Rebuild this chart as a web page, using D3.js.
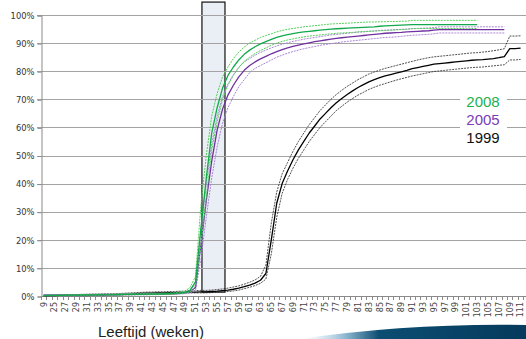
<!DOCTYPE html>
<html><head><meta charset="utf-8">
<script src="https://cdn.jsdelivr.net/npm/d3@7"></script>
<style>html,body{margin:0;padding:0;background:#fff;}svg{display:block;}</style>
</head><body>
<svg id="c" width="526" height="339"></svg>
<script>
// ---------- data ----------
const weeks = [9].concat(d3.range(24, 112)); // category labels 9, 24..111
const yTicks = [0,10,20,30,40,50,60,70,80,90,100];
const seriesNames = ["2008","2005","1999"];
const highlightWeeks = [52.2, 56.45];     // shaded period (weeks)
const highlightRange = [1.4, 104.6];      // percent

const g2008 = [0.1,
 0.2,0.2,0.2,0.3,0.3,0.3,0.3,
 0.4,0.4,0.4,0.5,0.5,0.5,0.5,0.6,0.6,0.6,
 0.6,0.7,0.7,0.7,0.8,0.8,0.9,1.0,1.3,2.0,
 5,24,42,58,67,74,78.5,81.5,84,86,
 87.5,88.7,89.7,90.5,91.3,92,92.6,93,93.4,93.7,
 94,94.2,94.4,94.6,94.8,95,95.1,95.2,95.3,95.4,
 95.5,95.6,95.7,95.8,96,96.1,96.2,96.3,96.4,96.5,
 96.6,96.6,96.6,96.6,96.6,96.6,96.6,96.6,96.6,96.6,
 96.6,96.6,96.6,null,null,null,null,null,null,null,
 null];
const g2008hi = [0.2,
 0.3,0.3,0.3,0.4,0.4,0.4,0.5,
 0.5,0.5,0.6,0.6,0.6,0.7,0.7,0.8,0.8,0.8,
 0.8,0.9,0.9,0.9,1.0,1.0,1.1,1.3,1.7,3.0,
 7,32,50,64,72,78,81.5,84.5,86.8,88.6,
 90,91,92,92.7,93.3,94,94.5,94.9,95.2,95.5,
 95.8,96,96.2,96.4,96.6,96.8,96.9,97,97.1,97.2,
 97.3,97.4,97.5,97.5,97.6,97.6,97.7,97.7,97.8,97.8,
 98.1,98.1,98.1,98.1,98.1,98.1,98.1,98.1,98.1,98.1,
 98.1,98.1,98.1,null,null,null,null,null,null,null,
 null];
const g2008lo = [0,
 0.1,0.1,0.1,0.2,0.2,0.2,0.2,
 0.3,0.3,0.3,0.4,0.4,0.4,0.4,0.5,0.5,0.5,
 0.5,0.5,0.5,0.5,0.6,0.6,0.7,0.8,1.0,1.4,
 3.5,18,35,52,62,70,75,78.5,81.3,83.5,
 85,86.3,87.4,88.3,89.2,90,90.6,91.1,91.5,91.9,
 92.2,92.5,92.7,92.9,93.1,93.3,93.5,93.6,93.7,93.8,
 94,94.1,94.2,94.3,94.4,94.5,94.6,94.7,94.8,94.9,
 95.2,95.2,95.2,95.2,95.2,95.2,95.2,95.2,95.2,95.2,
 95.2,95.2,95.2,null,null,null,null,null,null,null,
 null];
const p2005 = [0.3,
 0.3,0.3,0.3,0.3,0.3,0.3,0.3,
 0.4,0.4,0.4,0.5,0.5,0.5,0.5,0.6,0.6,0.6,
 0.6,0.6,0.7,0.7,0.7,0.8,0.8,0.9,1.1,1.6,
 3,18,34,48,59,66.5,71.5,75,78,80.3,
 82,83.3,84.4,85.3,86.2,87,87.7,88.3,88.8,89.3,
 89.7,90.1,90.5,90.8,91.1,91.4,91.7,91.9,92.1,92.3,
 92.5,92.7,92.9,93.1,93.3,93.5,93.6,93.7,93.8,94,
 94.1,94.2,94.3,94.4,94.6,94.8,94.8,94.8,94.8,94.8,
 94.8,94.8,94.8,94.8,94.8,94.8,94.8,94.8,null,null,
 null];
const p2005hi = [0.5,
 0.5,0.5,0.5,0.5,0.5,0.5,0.5,
 0.6,0.6,0.6,0.7,0.7,0.7,0.7,0.8,0.8,0.8,
 0.8,0.8,0.9,0.9,0.9,1.0,1.0,1.1,1.4,2.2,
 4,23,40,54,64,71,75.5,78.8,81.4,83.3,
 84.5,85.7,86.7,87.5,88.3,89,89.6,90.1,90.6,91,
 91.4,91.7,92,92.3,92.6,92.9,93.1,93.3,93.5,93.7,
 93.9,94,94.2,94.3,94.5,94.6,94.7,94.8,94.9,95,
 95.1,95.2,95.3,95.4,95.5,95.8,95.8,95.8,95.8,95.8,
 95.8,95.8,95.8,95.8,95.8,95.8,95.8,95.8,null,null,
 null];
const p2005lo = [0.1,
 0.1,0.1,0.1,0.1,0.1,0.1,0.1,
 0.2,0.2,0.2,0.3,0.3,0.3,0.3,0.4,0.4,0.4,
 0.4,0.4,0.5,0.5,0.5,0.6,0.6,0.7,0.8,1.1,
 2,13,28,42,53,61.5,67,71,74.5,77,
 79.5,81,82,83,84,85,85.7,86.4,87,87.5,
 88,88.4,88.8,89.2,89.5,89.8,90.1,90.4,90.6,90.8,
 91,91.2,91.4,91.6,91.8,92,92.1,92.2,92.4,92.6,
 92.8,92.9,93,93.1,93.3,93.6,93.6,93.6,93.6,93.6,
 93.6,93.6,93.6,93.6,93.6,93.6,93.6,93.6,null,null,
 null];
const b1999 = [0,
 0.1,0.1,0.2,0.2,0.2,0.3,0.3,
 0.3,0.4,0.4,0.4,0.5,0.5,0.6,0.6,0.7,0.8,
 0.9,1.0,1.0,1.1,1.1,1.2,1.2,1.3,1.3,1.4,
 1.4,1.5,1.5,1.6,1.7,1.9,2.1,2.4,2.8,3.3,
 3.9,4.6,5.6,8,20,33,40,44.5,48.5,52,
 55,58,60.5,63,65,67,68.8,70.3,71.7,73,
 74.2,75.2,76.2,77,77.7,78.3,78.8,79.3,79.8,80.3,
 80.9,81.3,81.7,82.1,82.5,82.7,82.9,83.1,83.3,83.5,
 83.7,83.9,84,84.1,84.3,84.5,84.8,85.2,88,88,
 88.2];
const b1999hi = [0.1,
 0.3,0.3,0.4,0.4,0.5,0.5,0.6,
 0.6,0.7,0.7,0.8,0.8,0.9,0.9,1.0,1.1,1.2,
 1.3,1.4,1.4,1.5,1.5,1.6,1.6,1.7,1.7,1.8,
 1.9,2.0,2.0,2.1,2.3,2.5,2.8,3.2,3.6,4.2,
 4.9,5.7,7.0,11,26,37,43.5,47.5,51.5,55,
 58,61,63.5,66,68,70,71.7,73.2,74.6,75.8,
 77,78,79,79.7,80.4,81,81.5,82,82.5,83,
 83.5,84,84.4,84.8,85.1,85.3,85.5,85.7,85.9,86.1,
 86.3,86.5,86.6,86.8,87,87.3,87.6,88,92.5,92.5,
 92.6];
const b1999lo = [0,
 0,0,0.1,0.1,0.1,0.1,0.1,
 0.1,0.2,0.2,0.2,0.3,0.3,0.3,0.4,0.4,0.5,
 0.6,0.7,0.7,0.8,0.8,0.9,0.9,1.0,1.0,1.1,
 1.1,1.1,1.1,1.2,1.3,1.4,1.6,1.8,2.1,2.6,
 3.1,3.7,4.5,6,15,28,36.5,41.5,45.5,49,
 52,55,57.5,60,62,64,66,67.5,69,70.3,
 71.5,72.5,73.5,74.3,75,75.6,76.2,76.8,77.3,77.8,
 78.3,78.7,79.1,79.5,79.9,80.1,80.3,80.5,80.7,80.9,
 81.1,81.3,81.4,81.5,81.7,81.9,82.1,82.3,84,84,
 84.2];

// ---------- layout ----------
const svg = d3.select("#c");
const plotL = 41, plotR = 526, plotT = 15, plotB = 296;
const x = d3.scaleLinear().domain([0, weeks.length - 1]).range([43.7, 520.6]);
const step = x(1) - x(0);
const y = d3.scaleLinear().domain([0, 100]).range([plotB, plotT]);
const weekToIdx = w => w <= 9 ? 0 : (w - 23);

// highlight rectangle
svg.append("rect")
  .attr("x", x(weekToIdx(highlightWeeks[0])))
  .attr("y", y(highlightRange[1]))
  .attr("width", x(weekToIdx(highlightWeeks[1])) - x(weekToIdx(highlightWeeks[0])))
  .attr("height", y(highlightRange[0]) - y(highlightRange[1]))
  .attr("fill", "#eaeef5").attr("stroke", "#111").attr("stroke-width", 1.2);

// gridlines
svg.append("g").selectAll("line").data(yTicks.filter(t => t > 0)).join("line")
  .attr("x1", plotL - 4).attr("x2", plotR)
  .attr("y1", d => Math.round(y(d)) + 0.5).attr("y2", d => Math.round(y(d)) + 0.5)
  .attr("stroke", "#a3a3a3").attr("stroke-width", 1);

// y axis
const yAxis = d3.axisLeft(y).tickValues(yTicks).tickFormat(d => d + "%").tickSize(4).tickPadding(3);
const ya = svg.append("g").attr("transform", `translate(${plotL + 0.5},0.5)`).call(yAxis);
ya.select(".domain").attr("stroke", "#8a8a8a");
ya.selectAll(".tick line").attr("stroke", "#8a8a8a");
ya.selectAll("text").attr("font-family", "DejaVu Sans, Verdana, sans-serif").attr("font-size", 8.4).attr("fill", "#333");

// x axis
const xa = svg.append("g");
xa.append("line").attr("x1", plotL).attr("x2", plotR)
  .attr("y1", Math.round(plotB) + 0.5).attr("y2", Math.round(plotB) + 0.5).attr("stroke", "#8a8a8a");
xa.selectAll("line.tk").data(d3.range(weeks.length + 1)).join("line").attr("class", "tk")
  .attr("x1", i => Math.round(x(i) - step / 2) + 0.5).attr("x2", i => Math.round(x(i) - step / 2) + 0.5)
  .attr("y1", plotB).attr("y2", plotB + 4).attr("stroke", "#8a8a8a");
xa.selectAll("text").data(weeks.map((w, i) => ({w, i})).filter(d => d.i % 2 === 0)).join("text")
  .attr("transform", d => `translate(${x(d.i)},${plotB + 6}) rotate(-90)`)
  .attr("dy", "0.35em").attr("text-anchor", "end")
  .attr("font-family", "DejaVu Sans, Verdana, sans-serif").attr("font-size", 8).attr("fill", "#444")
  .text(d => d.w);

// lines
const line = d3.line().defined(d => d != null).x((d, i) => x(i)).y(d => y(d));
const series = [
  {v: b1999lo, c: "#222", w: 0.8, dash: "2,1"},
  {v: b1999hi, c: "#222", w: 0.8, dash: "2,1"},
  {v: b1999, c: "#000", w: 1.3},
  {v: p2005lo, c: "#a886d8", w: 1, dash: "2,1"},
  {v: p2005hi, c: "#a886d8", w: 1, dash: "2,1"},
  {v: p2005, c: "#7030a0", w: 1.3},
  {v: g2008lo, c: "#55d05a", w: 1, dash: "2,1"},
  {v: g2008hi, c: "#55d05a", w: 1, dash: "2,1"},
  {v: g2008, c: "#12a84c", w: 1.3}
];
const lg = svg.append("g");
series.forEach(s => {
  lg.append("path").datum(s.v).attr("d", line)
    .attr("fill", "none").attr("stroke", s.c).attr("stroke-width", s.w)
    .attr("stroke-dasharray", s.dash || null).attr("stroke-linejoin", "round");
});

// legend
svg.append("rect").attr("x", 460).attr("y", 91).attr("width", 47).attr("height", 56).attr("fill", "#fff");
const legColors = ["#1db050", "#7a3cb8", "#111"];
svg.append("g").selectAll("text").data(seriesNames).join("text")
  .attr("x", 483).attr("y", (d, i) => 107 + i * 18)
  .attr("text-anchor", "middle").attr("font-family", "Liberation Sans, Arial, sans-serif")
  .attr("font-size", 15).attr("fill", (d, i) => legColors[i]).text(d => d);

// x title
svg.append("text").attr("x", 98).attr("y", 337)
  .attr("font-family", "Liberation Sans, Arial, sans-serif").attr("font-size", 15).attr("fill", "#222")
  .text("Leeftijd (weken)");

// decorative swoosh
const defs = svg.append("defs");
const gr = defs.append("linearGradient").attr("id", "sw").attr("x1", "0").attr("x2", "1");
gr.append("stop").attr("offset", "0").attr("stop-color", "#cfe3f0").attr("stop-opacity", 0);
gr.append("stop").attr("offset", "0.2").attr("stop-color", "#8fb8d2");
gr.append("stop").attr("offset", "0.35").attr("stop-color", "#0c4d72");
gr.append("stop").attr("offset", "1").attr("stop-color", "#053a5c");
svg.append("path").attr("d", "M300,339 Q410,323 526,325 L526,339 Z").attr("fill", "url(#sw)");
</script>
</body></html>
